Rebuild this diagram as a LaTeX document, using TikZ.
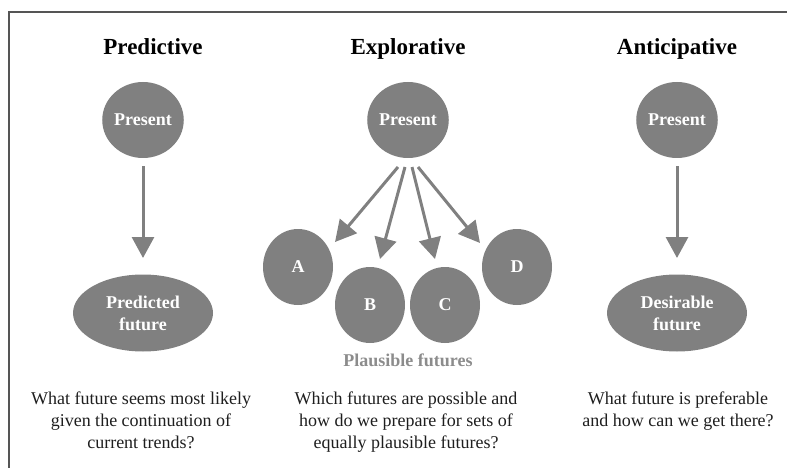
\documentclass[tikz,border=0pt]{standalone}
\usepackage{fontspec}
\setmainfont{Liberation Serif}
\usetikzlibrary{shapes.geometric,arrows.meta}
\definecolor{nodegray}{HTML}{808080}
\definecolor{lblgray}{HTML}{8C8C8C}
\definecolor{txt}{HTML}{1E1E1E}
\definecolor{frame}{HTML}{555555}
\tikzset{
  ttl/.style={font=\fontsize{23}{26}\selectfont\bfseries, text=black, anchor=base, inner sep=0pt},
  pres/.style={ellipse, fill=nodegray, minimum width=70pt, minimum height=76pt, inner sep=0pt,
      text=white, font=\fontsize{18}{22}\selectfont\bfseries},
  fut/.style={ellipse, fill=nodegray, minimum width=140pt, minimum height=77pt, inner sep=0pt,
      text=white, align=center, font=\fontsize{18}{22}\selectfont\bfseries},
  question/.style={align=center, text=txt, anchor=north, inner sep=0pt,
      font=\fontsize{18}{22}\selectfont},
  arr/.style={draw=nodegray, line width=3pt, -{Triangle[width=22pt,length=21pt]}},
}
\begin{document}
\begin{tikzpicture}[x=1pt,y=-1pt]
\useasboundingbox (0,0) rectangle (787,468);
% open frame
\coordinate (fTL) at (9,12);
\coordinate (fTR) at (787,12);
\coordinate (fBL) at (9,468);
\draw[frame, line width=1.5pt] (fTR) -- (fTL) -- (fBL);

% titles
\node[ttl] (t1) at (153,55) {Predictive};
\node[ttl] (t2) at (408,55) {Explorative};
\node[ttl] (t3) at (677,55) {Anticipative};

% predictive
\node[pres] (p1) at (143,120) {Present};
\node[fut] (f1) at (143,313) {Predicted\\future};
\coordinate (p1s) at (143,166);
\coordinate (p1t) at (143,258);
\draw[arr] (p1s) -- (p1t);

% explorative
\node[pres] (p2) at (408,120) {Present};
\node[pres] (A) at (298,267) {A};
\node[pres] (B) at (370,305) {B};
\node[pres] (C) at (445,305) {C};
\node[pres] (D) at (517,267) {D};
\node[text=lblgray, font=\fontsize{18}{22}\selectfont\bfseries, inner sep=0pt] (pl) at (408,360) {Plausible futures};
\coordinate (sA) at (398,167);
\coordinate (sB) at (405,167);
\coordinate (sC) at (412,167);
\coordinate (sD) at (418,167);
\coordinate (tA) at (335,242);
\coordinate (tB) at (380,259);
\coordinate (tC) at (435,259);
\coordinate (tD) at (480,243);
\draw[arr] (sA) -- (tA);
\draw[arr] (sB) -- (tB);
\draw[arr] (sC) -- (tC);
\draw[arr] (sD) -- (tD);

% anticipative
\node[pres] (p3) at (677,120) {Present};
\node[fut] (f3) at (677,313) {Desirable\\future};
\coordinate (p3s) at (677,166);
\coordinate (p3t) at (677,258);
\draw[arr] (p3s) -- (p3t);

% questions
\node[question] (q1) at (141,392) {What future seems most likely\\given the continuation of\\current trends?};
\node[question] (q2) at (406,392) {Which futures are possible and\\how do we prepare for sets of\\equally plausible futures?};
\node[question] (q3) at (678,392) {What future is preferable\\and how can we get there?};
\end{tikzpicture}
\end{document}
